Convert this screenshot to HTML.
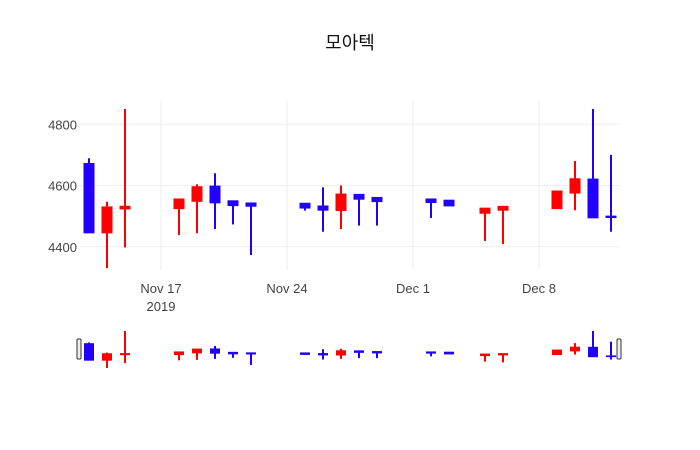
<!DOCTYPE html>
<html><head><meta charset="utf-8">
<style>
body{margin:0;background:#fff;}
svg{display:block;font-family:"Liberation Sans","Noto Sans CJK KR",sans-serif;}
</style></head>
<body>
<svg id="chart" width="700" height="450">
<rect width="700" height="450" fill="#fff"/>
<text x="350" y="49" text-anchor="middle" font-size="18" fill="#111">모아텍</text>
<g id="grid"></g>
<g id="marks"></g>
<g id="slider"></g>
<g id="axes"></g>
</svg>
<script>
const dates = ["2019-11-13","2019-11-14","2019-11-15","2019-11-18","2019-11-19","2019-11-20","2019-11-21","2019-11-22","2019-11-25","2019-11-26","2019-11-27","2019-11-28","2019-11-29","2019-12-02","2019-12-03","2019-12-05","2019-12-06","2019-12-09","2019-12-10","2019-12-11","2019-12-12"];
const opens = [4672,4447,4525,4526,4550,4598,4550,4543,4542,4533,4520,4571,4561,4556,4552,4511,4521,4526,4577,4621,4500];
const highs = [4689,4547,4850,4556,4604,4640,4550,4543,4542,4594,4600,4571,4561,4556,4552,4526,4532,4582,4680,4850,4700];
const lows = [4447,4330,4398,4438,4444,4458,4473,4373,4518,4449,4458,4469,4469,4494,4535,4419,4409,4526,4519,4496,4449];
const closes = [4447,4530,4532,4556,4596,4545,4536,4534,4528,4521,4572,4557,4549,4546,4535,4526,4532,4582,4622,4496,4497];
const yTicks = [4400,4600,4800];
const xTicks = ["2019-11-17","2019-11-24","2019-12-01","2019-12-08"];
const xTickLabels = ["Nov 17","Nov 24","Dec 1","Dec 8"];

const NS="http://www.w3.org/2000/svg";
const x0=Date.parse("2019-11-12T12:00:00Z"), x1=Date.parse("2019-12-12T12:00:00Z");
const L=80,R=620;
function xs(d){return L+(Date.parse(d+"T00:00:00Z")-x0)/(x1-x0)*(R-L);}
function ys(v){return 185.5-(v-4600)*0.30625;}
function ys2(v){return 331+(4850-v)*(37/520);}
function mk(tag,attrs,parent){const e=document.createElementNS(NS,tag);for(const k in attrs)e.setAttribute(k,attrs[k]);parent.appendChild(e);return e;}
const grid=document.getElementById('grid'),marks=document.getElementById('marks'),slider=document.getElementById('slider'),axes=document.getElementById('axes');

yTicks.forEach(v=>{
  const l=mk('line',{x1:L,x2:R,y1:ys(v),y2:ys(v),stroke:'#eee','stroke-width':1},grid);
  
  
  const t=mk('text',{x:L-3,y:ys(v)+5,'text-anchor':'end','font-size':13,fill:'#444'},axes);
  t.textContent=v;
  
  
});
xTicks.forEach((d,i)=>{
  const x=xs(d);
  const l=mk('line',{x1:x,x2:x,y1:100,y2:270,stroke:'#eee','stroke-width':1},grid);
  
  
  const t=mk('text',{x:x,y:293,'text-anchor':'middle','font-size':13,fill:'#444'},axes);
  t.textContent=xTickLabels[i];
  
  
});
const yr=mk('text',{x:xs(xTicks[0]),y:311,'text-anchor':'middle','font-size':13,fill:'#444'},axes);
yr.textContent="2019";



function candle(i,parent,yf,bw,lw){
  const x=xs(dates[i]);
  const up=closes[i]>=opens[i];
  const c=up?'#ff0000':'#2200ff';
  const g=mk('g',{},parent);
  
  
  mk('line',{x1:x,x2:x,y1:yf(highs[i]),y2:yf(lows[i]),stroke:c,'stroke-width':lw},g);
  const top=yf(Math.max(opens[i],closes[i])),bot=yf(Math.min(opens[i],closes[i]));
  mk('rect',{x:x-bw/2,y:top-0.5,width:bw,height:Math.max(bot-top,0)+1.5,fill:c},g);
}
dates.forEach((d,i)=>candle(i,marks,ys,11,2));

const sb=mk('rect',{x:L,y:328,width:R-L,height:42,fill:'#fff',stroke:'none'},slider);


dates.forEach((d,i)=>candle(i,slider,ys2,10,2));
[L-2,R-2].forEach((hx,k)=>{
  const h=mk('rect',{x:hx-1,y:339,width:4,height:20,rx:1,fill:'#eee',stroke:'#333','stroke-width':1},slider);
  
  
});
</script>
</body></html>
